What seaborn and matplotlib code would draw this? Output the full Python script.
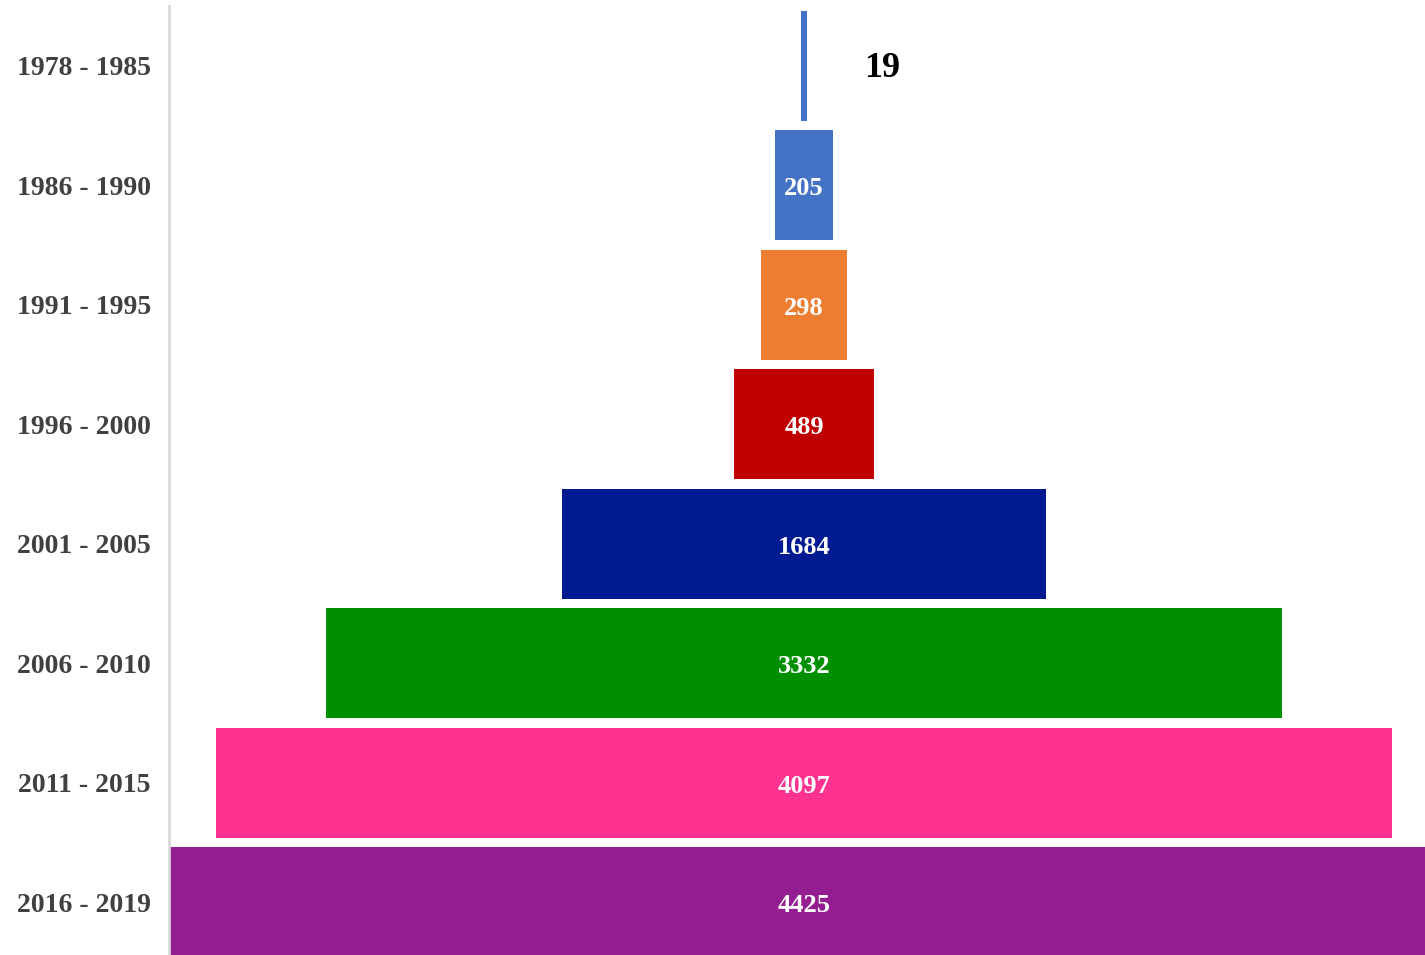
import matplotlib
matplotlib.use("Agg")
import matplotlib.pyplot as plt
import seaborn as sns
import pandas as pd

periods = ["1978 - 1985", "1986 - 1990", "1991 - 1995", "1996 - 2000",
           "2001 - 2005", "2006 - 2010", "2011 - 2015", "2016 - 2019"]
counts = [19, 205, 298, 489, 1684, 3332, 4097, 4425]
colors = ["#4472C4", "#4472C4", "#ED7D31", "#C00000",
          "#001A94", "#008F00", "#FF3290", "#941E91"]

sns.set_theme(style="white")
plt.rcParams["font.family"] = ["Liberation Serif", "DejaVu Serif"]

df = pd.DataFrame({"period": periods, "count": counts})

fig = plt.figure(figsize=(14.25, 9.55), dpi=100)
ax = fig.add_axes([169 / 1425, -7 / 955, 1 - 169 / 1425, 956 / 955])

sns.barplot(data=df, x="count", y="period", hue="period", palette=colors,
            orient="h", width=0.92, linewidth=0, saturation=1,
            legend=False, ax=ax)

# center each bar around zero (funnel)
for p in ax.patches:
    w = p.get_width()
    p.set_x(-w / 2)

half = max(counts) / 2
ax.set_xlim(-half, half * 621 / 635)
ax.set_ylim(len(periods) - 0.5, -0.5)

for i, v in enumerate(counts):
    if v < 100:
        ax.text(272, i + 0.02, str(v), ha="center", va="center",
                fontsize=26, fontweight="bold", color="black")
    else:
        ax.text(0, i + 0.03, str(v), ha="center", va="center",
                fontsize=19, fontweight="bold", color="white")

ax.set_xlabel("")
ax.set_ylabel("")
ax.set_xticks([])
ax.tick_params(axis="y", length=0, pad=13)
for lab in ax.get_yticklabels():
    lab.set_fontsize(20)
    lab.set_fontweight("bold")
    lab.set_color("#404040")

for s in ["top", "right", "bottom"]:
    ax.spines[s].set_visible(False)
ax.spines["left"].set_color("#D9D9D9")
ax.spines["left"].set_linewidth(2)

fig.savefig("out.png", dpi=100, facecolor="white")
